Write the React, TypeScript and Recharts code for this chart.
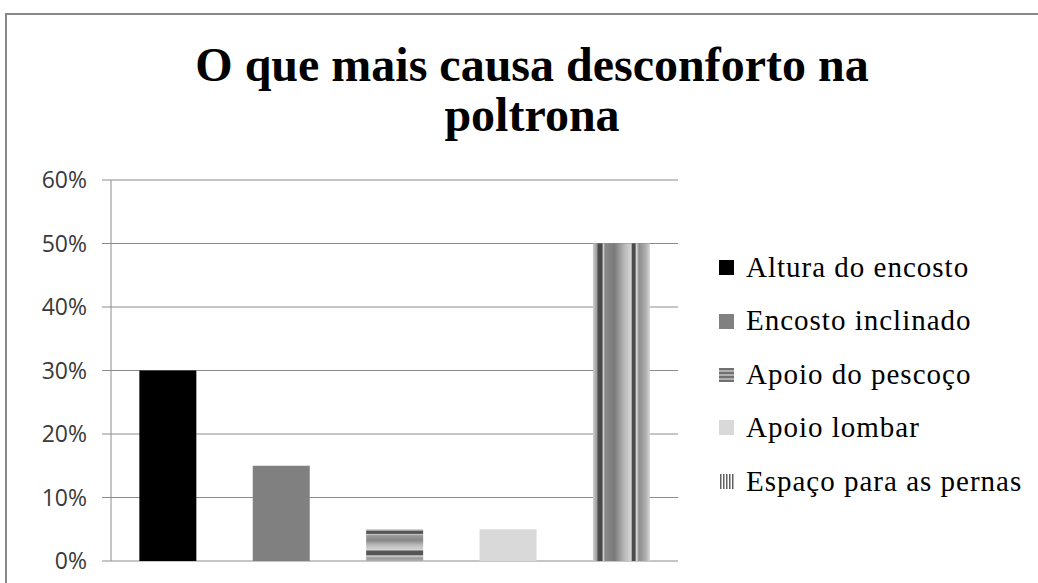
import { Bar, BarChart, CartesianGrid, Cell, Legend, XAxis, YAxis } from "recharts"

const categories = ["Altura do encosto", "Encosto inclinado", "Apoio do pescoço", "Apoio lombar", "Espaço para as pernas"]
const values = [30, 15, 5, 5, 50]
const yTicks = [0, 10, 20, 30, 40, 50, 60]
const fills = ["#000000", "#808080", "url(#stripesH)", "#d9d9d9", "url(#stripesV)"]

const data = categories.map((name, i) => ({ name, value: values[i] }))

// gradient bands of the "vertical stripes" fill (left to right)
const vStops = [
  [0, "#d0d0d0"],
  [0.07, "#9a9a9a"],
  [0.09, "#4a4a4a"],
  [0.16, "#4a4a4a"],
  [0.18, "#dedede"],
  [0.21, "#8a8a8a"],
  [0.38, "#7a7a7a"],
  [0.55, "#b8b8b8"],
  [0.67, "#d4d4d4"],
  [0.69, "#4a4a4a"],
  [0.74, "#4a4a4a"],
  [0.76, "#dcdcdc"],
  [0.81, "#8c8c8c"],
  [0.93, "#b0b0b0"],
  [1, "#d8d8d8"],
] as const

// "horizontal stripes" fill (top to bottom)
const hStops = [
  [0, "#cccccc"],
  [0.05, "#999999"],
  [0.06, "#555555"],
  [0.13, "#555555"],
  [0.17, "#d0d0d0"],
  [0.2, "#999999"],
  [0.35, "#888888"],
  [0.5, "#bbbbbb"],
  [0.65, "#d4d4d4"],
  [0.69, "#555555"],
  [0.8, "#555555"],
  [0.84, "#d8d8d8"],
  [0.9, "#999999"],
  [1, "#b0b0b0"],
] as const

function LegendIcon({ index }: { index: number }) {
  if (index === 2) {
    return (
      <svg width={15} height={15}>
        {[1, 5, 9, 13].map((y) => (
          <rect key={y} x={0} y={y} width={15} height={2} fill="#707070" />
        ))}
        {[3, 7, 11].map((y) => (
          <rect key={y} x={0} y={y} width={15} height={2} fill="#b0b0b0" />
        ))}
      </svg>
    )
  }
  if (index === 4) {
    return (
      <svg width={15} height={15}>
        {[1, 4, 7, 10, 13].map((x) => (
          <rect key={x} x={x} y={0} width={1.5} height={15} fill="#606060" />
        ))}
      </svg>
    )
  }
  return <div style={{ width: 15, height: 15, background: fills[index] }} />
}

function LegendList() {
  return (
    <div style={{ fontFamily: "'Liberation Serif', 'Times New Roman', serif", fontSize: 29, color: "#000", letterSpacing: 1 }}>
      {categories.map((name, i) => (
        <div key={name} style={{ height: 53.4, display: "flex", alignItems: "center", whiteSpace: "nowrap" }}>
          <LegendIcon index={i} />
          <span style={{ marginLeft: 12, lineHeight: "53.4px" }}>{name}</span>
        </div>
      ))}
    </div>
  )
}

export default function App() {
  return (
    <div style={{ position: "absolute", left: 0, top: 0, width: 1038, height: 583, overflow: "hidden", background: "#fff" }}>
      <div
        style={{
          position: "absolute",
          left: 5,
          top: 13,
          width: 1100,
          height: 700,
          borderLeft: "2px solid #888",
          borderTop: "2px solid #888",
        }}
      />
      <div
        style={{
          position: "absolute",
          left: 32,
          top: 40,
          width: 1000,
          textAlign: "center",
          fontFamily: "'Liberation Serif', 'Times New Roman', serif",
          fontWeight: "bold",
          fontSize: 48,
          lineHeight: "50px",
          color: "#000",
          whiteSpace: "nowrap",
        }}
      >
        O que mais causa desconforto na
        <br />
        poltrona
      </div>
      <div style={{ position: "absolute", left: 0, top: 0 }}>
        <BarChart width={1038} height={583} data={data} margin={{ top: 180, right: 360, bottom: 22, left: 0 }} barCategoryGap="25%">
          <defs>
            <linearGradient id="stripesV" x1="0" y1="0" x2="1" y2="0">
              {vStops.map(([o, c], i) => (
                <stop key={i} offset={o} stopColor={c} />
              ))}
            </linearGradient>
            <linearGradient id="stripesH" x1="0" y1="0" x2="0" y2="1">
              {hStops.map(([o, c], i) => (
                <stop key={i} offset={o} stopColor={c} />
              ))}
            </linearGradient>
          </defs>
          <CartesianGrid vertical={false} stroke="#8c8c8c" />
          <XAxis dataKey="name" hide />
          <YAxis
            width={111}
            domain={[0, 60]}
            ticks={yTicks}
            interval={0}
            tickFormatter={(v) => `${v}%`}
            tickSize={9}
            tickMargin={15}
            axisLine={{ stroke: "#8c8c8c" }}
            tickLine={{ stroke: "#8c8c8c" }}
            tick={{ fill: "#3a3a3a", fontSize: 23, fontFamily: "'Open Sans', sans-serif" }}
          />
          <Legend
            layout="vertical"
            align="center"
            verticalAlign="middle"
            wrapperStyle={{ left: 719, top: 241, width: 320 }}
            content={() => <LegendList />}
          />
          <Bar dataKey="value" isAnimationActive={false}>
            {data.map((d, i) => (
              <Cell key={d.name} fill={fills[i]} />
            ))}
          </Bar>
        </BarChart>
      </div>
    </div>
  )
}
